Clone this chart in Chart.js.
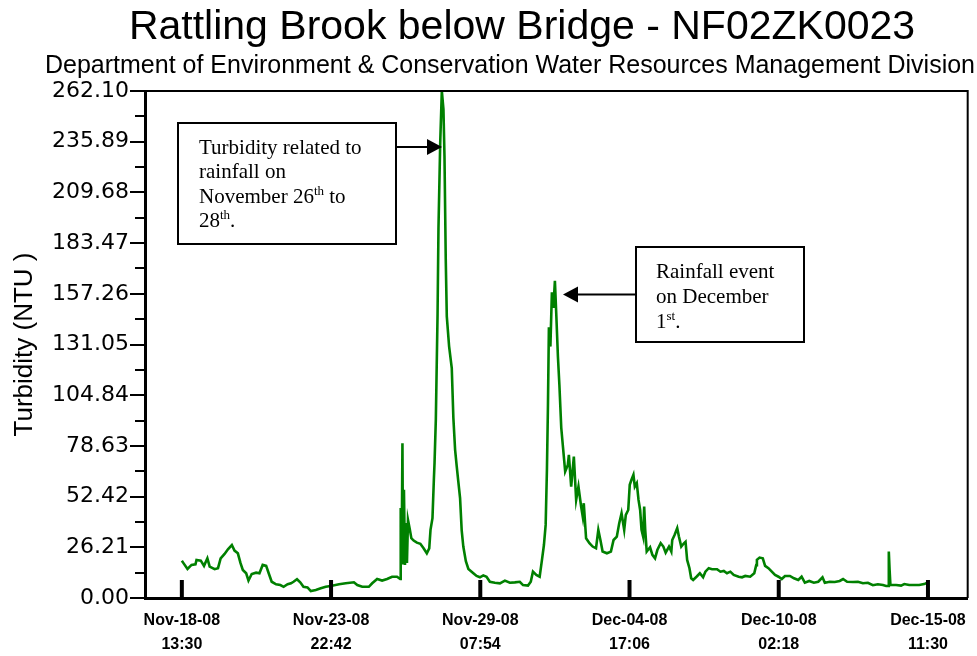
<!DOCTYPE html>
<html>
<head>
<meta charset="utf-8">
<title>Rattling Brook below Bridge - NF02ZK0023</title>
<script src="https://cdn.jsdelivr.net/npm/chart.js@4.4.0/dist/chart.umd.min.js"></script>
<style>
  html, body { margin: 0; padding: 0; background: #fff; }
</style>
</head>
<body>
<canvas id="myChart" width="977" height="656"></canvas>
<script>
// titles
var chartTitle = 'Rattling Brook below Bridge - NF02ZK0023';
var chartSubtitle = 'Department of Environment & Conservation Water Resources Management Division';
var yTitle = 'Turbidity (NTU )';

// x axis: hours after Nov-18-08 13:30
var xTickHours = [0, 129.2, 258.4, 387.6, 516.8, 646];
var xTickLabels = [
    ['Nov-18-08', '13:30'],
    ['Nov-23-08', '22:42'],
    ['Nov-29-08', '07:54'],
    ['Dec-04-08', '17:06'],
    ['Dec-10-08', '02:18'],
    ['Dec-15-08', '11:30']
];
var yTicks = [0, 26.21, 52.42, 78.63, 104.84, 131.05, 157.26, 183.47, 209.68, 235.89, 262.10];

// readings (hours after start, turbidity NTU)
var hours = [
    0, 1.1, 4.9, 8.4, 11.8, 12.7, 16.4, 19.2, 22.1, 24.1,
    28.4, 31.3, 33.6, 37.0, 39.9, 43.3, 45.6, 48.5, 50.8, 52.8,
    55.7, 57.7, 60.5, 64.3, 67.2, 70.0, 73.0, 75.2, 77.8, 81.6,
    85.3, 88.1, 91.6, 94.5, 96.7, 99.7, 102.5, 105.3, 108.8, 111.7,
    116.0, 120.3, 124.6, 128.9, 136.1, 141.9, 149.0, 151.9, 156.2, 161.9,
    164.8, 169.1, 173.4, 177.7, 182.0, 186.3, 189.1, 189.5, 190.6, 191.0,
    191.5, 192.3, 193.2, 194.1, 194.9, 195.8, 197.2, 198.7, 200.7, 203.5,
    206.5, 209.3, 212.1, 214.2, 215.3, 217.0, 218.2, 218.8, 219.9, 221.4,
    222.2, 223.7, 225.1, 226.5, 227.4, 228.5, 229.4, 231.4, 233.7, 235.1,
    236.6, 238.0, 239.4, 240.9, 242.3, 243.7, 245.9, 248.1, 252.4, 255.2,
    258.1, 261.0, 263.8, 266.7, 271.0, 275.4, 279.7, 284.0, 288.3, 292.6,
    295.4, 299.7, 302.1, 304.0, 306.9, 309.8, 311.8, 313.5, 315.0, 316.1,
    317.0, 317.8, 319.1, 320.4, 321.7, 323.0, 324.3, 325.6, 326.9, 328.5,
    330.0, 331.9, 334.2, 335.1, 337.1, 339.4, 341.4, 343.4, 345.7, 347.1,
    348.0, 350.0, 352.9, 355.7, 358.6, 360.6, 362.4, 364.3, 368.0, 371.5,
    373.8, 376.6, 378.7, 380.7, 383.0, 384.4, 386.5, 387.8, 389.3, 391.0,
    392.2, 393.9, 395.4, 396.8, 398.0, 399.4, 400.3, 401.2, 402.5, 405.4,
    407.4, 409.7, 411.7, 414.6, 416.9, 418.9, 421.8, 423.8, 424.6, 426.6,
    428.9, 430.4, 432.4, 434.7, 436.1, 437.5, 439.5, 441.0, 442.7, 445.6,
    448.5, 451.3, 453.3, 456.2, 459.1, 463.4, 466.3, 469.2, 472.0, 474.9,
    477.8, 482.1, 485.0, 487.8, 492.1, 495.6, 497.3, 497.9, 500.2, 503.0,
    505.0, 507.9, 510.8, 513.6, 516.6, 519.4, 522.2, 526.5, 530.0, 533.7,
    536.6, 539.4, 543.2, 547.2, 551.0, 554.7, 556.7, 561.0, 565.3, 569.6,
    572.5, 576.0, 581.1, 585.4, 589.7, 594.0, 598.3, 602.6, 607.0, 609.8,
    611.5, 612.1, 612.8, 613.5, 618.4, 622.7, 625.5, 629.8, 634.1, 638.4,
    642.7, 644.2, 646.0
];
var turbidity = [
    19.3, 18.3, 15.0, 17.1, 17.4, 19.7, 19.3, 16.6, 20.5, 16.2,
    14.9, 15.4, 20.5, 22.8, 25.2, 27.4, 24.5, 23.1, 18.0, 14.5,
    12.8, 9.0, 12.4, 13.1, 12.8, 17.1, 16.6, 12.8, 8.4, 7.1,
    6.7, 5.8, 7.1, 7.6, 8.4, 9.7, 8.1, 5.8, 5.5, 3.6,
    4.1, 5.0, 5.8, 6.2, 7.1, 7.6, 8.1, 6.7, 5.8, 5.8,
    7.6, 9.8, 9.0, 9.8, 11.0, 11.0, 9.8, 45.9, 45.9, 80.0,
    18.0, 55.9, 17.1, 38.7, 18.1, 40.4, 36.1, 30.9, 29.7, 28.6,
    28.0, 25.7, 23.1, 25.7, 35.2, 41.3, 61.1, 70.0, 92.1, 146.5,
    191.4, 235.3, 262.1, 252.6, 228.4, 174.9, 145.6, 130.1, 118.9, 93.0,
    76.6, 68.0, 60.0, 51.6, 35.0, 26.6, 19.0, 15.0, 12.8, 11.4,
    10.7, 11.7, 11.0, 8.4, 7.9, 7.6, 9.0, 7.9, 8.1, 8.4,
    6.7, 6.4, 8.4, 13.6, 11.9, 11.0, 19.7, 27.4, 37.8, 66.3,
    100.0, 140.0, 130.0, 158.0, 150.0, 164.0, 145.0, 125.0, 110.0, 88.0,
    78.0, 65.4, 68.8, 74.0, 57.6, 73.1, 50.7, 57.6, 47.3, 42.1,
    49.0, 30.9, 28.3, 26.6, 25.7, 35.2, 30.0, 24.0, 23.1, 24.0,
    30.0, 31.7, 38.7, 43.8, 35.2, 43.0, 45.5, 58.5, 61.1, 63.7,
    57.6, 59.4, 50.7, 45.5, 35.2, 31.7, 47.3, 35.2, 24.0, 26.2,
    22.3, 20.5, 24.8, 28.3, 26.6, 23.4, 26.6, 24.0, 30.0, 32.6,
    36.1, 31.7, 26.6, 28.3, 29.1, 19.7, 15.4, 10.2, 9.3, 11.0,
    12.8, 10.7, 13.6, 15.4, 14.9, 14.9, 13.6, 14.0, 12.8, 13.6,
    11.9, 11.0, 10.7, 11.4, 11.0, 12.8, 17.0, 19.7, 20.9, 20.5,
    16.6, 15.4, 13.6, 11.9, 11.0, 9.8, 11.4, 11.4, 10.2, 9.3,
    11.0, 7.9, 8.8, 7.9, 8.4, 10.7, 7.9, 8.4, 8.3, 8.8,
    9.8, 8.4, 8.3, 8.4, 7.6, 7.9, 6.6, 7.1, 6.7, 6.2,
    6.2, 24.0, 14.5, 6.7, 6.7, 6.4, 7.2, 6.7, 6.7, 6.7,
    7.2, 7.6, 7.4
];

// note boxes: lines of [text, superscript?]
var note1 = [
    [['Turbidity related to']],
    [['rainfall on']],
    [['November 26'], ['th', true], [' to']],
    [['28'], ['th', true], ['.']]
];
var note2 = [
    [['Rainfall event']],
    [['on December']],
    [['1'], ['st', true], ['.']]
];

function drawLine(c, parts, x, y) {
    parts.forEach(function (p) {
        if (p[1]) {
            c.font = '13px "Liberation Serif"';
            c.fillText(p[0], x, y - 8);
        } else {
            c.font = '21px "Liberation Serif"';
            c.fillText(p[0], x, y);
        }
        x += c.measureText(p[0]).width;
    });
}

function arrow(c, x1, y, x2) {
    var dir = x2 > x1 ? 1 : -1;
    c.beginPath();
    c.moveTo(x1, y);
    c.lineTo(x2 - dir * 14, y);
    c.lineWidth = 2;
    c.stroke();
    c.beginPath();
    c.moveTo(x2, y);
    c.lineTo(x2 - dir * 15, y - 8);
    c.lineTo(x2 - dir * 15, y + 8);
    c.closePath();
    c.fill();
}

var decorations = {
    id: 'decorations',
    afterDraw: function (chart) {
        var c = chart.ctx;
        var a = chart.chartArea;
        var xs = chart.scales.x;
        var ys = chart.scales.y;
        c.save();
        c.fillStyle = '#000';
        c.strokeStyle = '#000';

        // titles
        c.textAlign = 'center';
        c.textBaseline = 'alphabetic';
        c.font = '41px "Liberation Sans"';
        c.fillText(chartTitle, 522, 39);
        c.font = '25px "Liberation Sans"';
        c.fillText(chartSubtitle, 510, 73);

        // frame top and right
        c.lineWidth = 2;
        c.beginPath();
        c.moveTo(a.left, a.top);
        c.lineTo(a.right, a.top);
        c.lineTo(a.right, a.bottom);
        c.stroke();

        // minor y ticks
        c.lineWidth = 2;
        for (var i = 0; i < yTicks.length - 1; i++) {
            var py = Math.round(ys.getPixelForValue((yTicks[i] + yTicks[i + 1]) / 2));
            c.beginPath();
            c.moveTo(a.left - 10, py);
            c.lineTo(a.left, py);
            c.stroke();
        }

        // x ticks pointing into the plot
        c.lineWidth = 4;
        xTickHours.forEach(function (h) {
            var px = xs.getPixelForValue(h);
            c.beginPath();
            c.moveTo(px, a.bottom);
            c.lineTo(px, a.bottom - 18);
            c.stroke();
        });

        // note boxes
        c.textAlign = 'left';
        c.lineWidth = 2;
        c.fillStyle = '#fff';
        c.fillRect(178, 123, 218, 121);
        c.strokeRect(178, 123, 218, 121);
        c.fillRect(636, 247, 168, 95);
        c.strokeRect(636, 247, 168, 95);
        c.fillStyle = '#000';
        note1.forEach(function (ln, k) { drawLine(c, ln, 199, 153.5 + k * 24.5); });
        note2.forEach(function (ln, k) { drawLine(c, ln, 656, 277.5 + k * 25); });
        arrow(c, 396, 147, 442);
        arrow(c, 636, 294.5, 563);
        c.restore();
    }
};

var ctx = document.getElementById('myChart').getContext('2d');

var chart = new Chart(ctx, {
    type: 'line',
    data: {
        datasets: [{
            label: 'Turbidity',
            data: hours.map(function (h, i) { return { x: h, y: turbidity[i] }; }),
            borderColor: 'rgb(0, 128, 0)',
            borderWidth: 2.6,
            pointRadius: 0,
            tension: 0,
            fill: false
        }]
    },
    options: {
        responsive: false,
        animation: false,
        devicePixelRatio: 1,
        layout: { padding: { top: 91, right: 5, left: 0, bottom: 0 } },
        plugins: {
            legend: { display: false },
            tooltip: { enabled: false }
        },
        scales: {
            x: {
                type: 'linear',
                min: -31.9,
                max: 680.4,
                afterBuildTicks: function (scale) {
                    scale.ticks = xTickHours.map(function (v) { return { value: v }; });
                },
                afterFit: function (scale) { scale.height = 58; },
                ticks: {
                    autoSkip: false,
                    maxRotation: 0,
                    padding: 11,
                    color: '#000',
                    font: { family: 'Liberation Sans', size: 16, weight: 'bold', lineHeight: 1.5 },
                    callback: function (v, i) { return xTickLabels[i]; }
                },
                grid: { drawOnChartArea: false, drawTicks: false },
                border: { display: true, color: '#000', width: 3 }
            },
            y: {
                min: 0,
                max: 262.1,
                afterBuildTicks: function (scale) {
                    scale.ticks = yTicks.map(function (v) { return { value: v }; });
                },
                afterFit: function (scale) { scale.width = 145; },
                ticks: {
                    padding: 1,
                    color: '#000',
                    font: { family: 'DejaVu Sans', size: 22 },
                    callback: function (v) { return Number(v).toFixed(2); }
                },
                grid: {
                    drawOnChartArea: false,
                    drawTicks: true,
                    tickLength: 15,
                    color: '#000',
                    lineWidth: 2
                },
                border: { display: true, color: '#000', width: 3 },
                title: {
                    display: true,
                    text: yTitle,
                    color: '#000',
                    font: { family: 'Liberation Sans', size: 26 },
                    padding: { top: 9, bottom: 0 }
                }
            }
        }
    },
    plugins: [decorations]
});
</script>
</body>
</html>
